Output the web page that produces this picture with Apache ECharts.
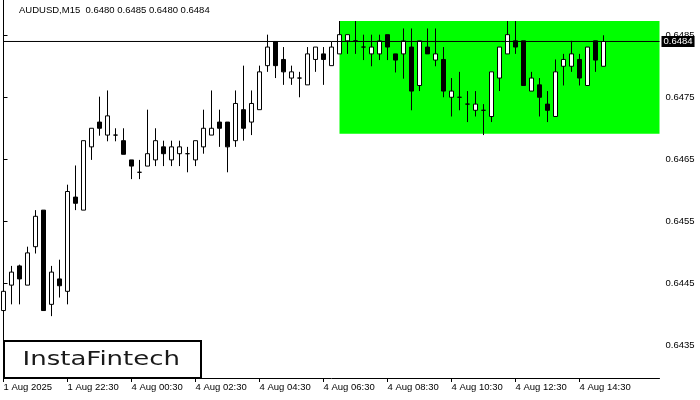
<!DOCTYPE html>
<html>
<head>
<meta charset="utf-8">
<script src="https://cdn.jsdelivr.net/npm/echarts@6/dist/echarts.min.js"></script>
<style>
html,body{margin:0;padding:0;background:#fff;}
#chart{width:700px;height:400px;}
</style>
</head>
<body>
<div id="chart"></div>
<script>
// ---- data ----
const titleText = 'AUDUSD,M15  0.6480 0.6485 0.6480 0.6484';
const tickLabels = ['1 Aug 2025','1 Aug 22:30','4 Aug 00:30','4 Aug 02:30','4 Aug 04:30','4 Aug 06:30','4 Aug 08:30','4 Aug 10:30','4 Aug 12:30','4 Aug 14:30'];
const tickBars = [0,8,16,24,32,40,48,56,64,72];
const priceTicks = [0.6435,0.6445,0.6455,0.6465,0.6475,0.6485];
const opens = [0.64406,0.64447,0.64478,0.64447,0.64509,0.64568,0.64416,0.64457,0.64437,0.64589,
  0.64568,0.64670,0.64710,0.64689,0.64689,0.64680,0.64649,0.64629,0.64639,0.64649,
  0.64670,0.64649,0.64659,0.64659,0.64649,0.64670,0.64689,0.64710,0.64710,0.64680,
  0.64730,0.64710,0.64730,0.64801,0.64840,0.64811,0.64781,0.64781,0.64770,0.64811,
  0.64820,0.64801,0.64820,0.64841,0.64841,0.64831,0.64820,0.64820,0.64851,0.64820,
  0.64820,0.64831,0.64769,0.64831,0.64810,0.64811,0.64750,0.64750,0.64739,0.64729,
  0.64729,0.64719,0.64781,0.64820,0.64841,0.64841,0.64760,0.64770,0.64739,0.64719,
  0.64800,0.64800,0.64811,0.64769,0.64841,0.64800];
const highs = [0.64469,0.64478,0.64480,0.64509,0.64568,0.64568,0.64478,0.64488,0.64609,0.64640,
  0.64680,0.64700,0.64751,0.64761,0.64700,0.64700,0.64649,0.64649,0.64730,0.64700,
  0.64680,0.64680,0.64680,0.64670,0.64680,0.64730,0.64761,0.64730,0.64710,0.64761,
  0.64801,0.64761,0.64801,0.64851,0.64840,0.64831,0.64801,0.64791,0.64831,0.64831,
  0.64831,0.64840,0.64873,0.64851,0.64873,0.64851,0.64851,0.64851,0.64851,0.64820,
  0.64861,0.64861,0.64841,0.64861,0.64861,0.64831,0.64781,0.64791,0.64760,0.64760,
  0.64739,0.64791,0.64831,0.64873,0.64873,0.64841,0.64791,0.64781,0.64760,0.64811,
  0.64820,0.64841,0.64820,0.64831,0.64841,0.64850];
const lows = [0.64406,0.64416,0.64416,0.64447,0.64498,0.64406,0.64397,0.64427,0.64416,0.64568,
  0.64568,0.64649,0.64688,0.64679,0.64679,0.64658,0.64618,0.64618,0.64639,0.64639,
  0.64639,0.64639,0.64639,0.64629,0.64639,0.64659,0.64689,0.64670,0.64629,0.64670,
  0.64680,0.64689,0.64730,0.64791,0.64781,0.64770,0.64770,0.64750,0.64770,0.64791,
  0.64770,0.64801,0.64820,0.64820,0.64820,0.64810,0.64800,0.64810,0.64810,0.64790,
  0.64780,0.64729,0.64760,0.64820,0.64800,0.64750,0.64719,0.64729,0.64710,0.64719,
  0.64689,0.64710,0.64760,0.64820,0.64820,0.64769,0.64760,0.64719,0.64710,0.64719,
  0.64769,0.64791,0.64769,0.64769,0.64791,0.64800];
const closes = [0.64437,0.64468,0.64457,0.64499,0.64558,0.64406,0.64468,0.64446,0.64598,0.64579,
  0.64680,0.64700,0.64700,0.64720,0.64689,0.64658,0.64639,0.64629,0.64659,0.64680,
  0.64659,0.64670,0.64670,0.64659,0.64680,0.64700,0.64700,0.64700,0.64670,0.64740,
  0.64700,0.64740,0.64791,0.64831,0.64801,0.64791,0.64791,0.64781,0.64820,0.64831,
  0.64811,0.64831,0.64851,0.64851,0.64841,0.64831,0.64831,0.64841,0.64831,0.64810,
  0.64841,0.64760,0.64841,0.64820,0.64820,0.64760,0.64760,0.64750,0.64739,0.64739,
  0.64729,0.64791,0.64831,0.64851,0.64831,0.64769,0.64781,0.64750,0.64729,0.64791,
  0.64811,0.64820,0.64781,0.64831,0.64810,0.64840];
const currentPrice = 0.6484;
const zoneTop = 0.64873;
const zoneBottom = 0.64691;
const zoneStartBar = 42;
const xMax = 82;
const yMin = 0.642972;
const yMax = 0.649069;

// ---- build ----
const candleData = opens.map((o, i) => [i, o, closes[i], lows[i], highs[i]]);
const font = 'Liberation Sans';

const chart = echarts.init(document.getElementById('chart'), null, {renderer: 'canvas'});
chart.setOption({
  animation: false,
  backgroundColor: '#ffffff',
  grid: {left: 3.5, right: 40.5, top: 0, bottom: 22, containLabel: false, show: false},
  xAxis: {
    type: 'value', min: 0, max: xMax,
    splitLine: {show: false},
    axisLine: {show: true, lineStyle: {color: '#000', width: 1}},
    axisTick: {show: true, length: 4, lineStyle: {color: '#000'}, customValues: tickBars},
    axisLabel: {
      customValues: tickBars, align: 'left', margin: 4, color: '#000',
      fontFamily: font, fontSize: 9.5,
      formatter: v => { const k = tickBars.indexOf(Math.round(v)); return k >= 0 ? tickLabels[k] : ''; }
    }
  },
  yAxis: [{
    type: 'value', position: 'right', min: yMin, max: yMax, scale: true,
    splitLine: {show: false},
    axisLine: {show: true, lineStyle: {color: '#000', width: 1}},
    axisTick: {show: true, length: 4, lineStyle: {color: '#000'}, customValues: priceTicks},
    axisLabel: {
      customValues: priceTicks, margin: 6, color: '#000', fontFamily: font, fontSize: 9.5,
      formatter: v => v.toFixed(4)
    }
  }, {
    type: 'value', position: 'left', min: yMin, max: yMax, scale: true,
    splitLine: {show: false},
    axisLine: {show: true, lineStyle: {color: '#000', width: 1}},
    axisTick: {show: false}, axisLabel: {show: false}
  }],
  series: [{
    type: 'candlestick',
    yAxisIndex: 0,
    data: candleData,
    encode: {x: 0, y: [1, 2, 3, 4]},
    barWidth: 4,
    itemStyle: {color: '#ffffff', color0: '#000000', borderColor: '#000000', borderColor0: '#000000', borderWidth: 1},
    emphasis: {disabled: true},
    markArea: {
      silent: true,
      itemStyle: {color: '#00ff00', opacity: 1},
      data: [[{xAxis: zoneStartBar, yAxis: zoneTop}, {xAxis: xMax, yAxis: zoneBottom}]]
    }
  }, {
    type: 'line',
    yAxisIndex: 0,
    z: 5,
    data: [[0, currentPrice], [xMax, currentPrice]],
    symbol: 'none',
    silent: true,
    clip: false,
    lineStyle: {color: '#000', width: 1, type: 'solid'},
    emphasis: {disabled: true},
    endLabel: {
      show: true, distance: 2,
      formatter: () => currentPrice.toFixed(4),
      backgroundColor: '#000', color: '#fff', padding: [1, 2, 0, 2],
      fontFamily: font, fontSize: 9.5
    }
  }],
  graphic: [
    {type: 'text', left: 19, top: 5, z: 100,
     style: {text: titleText, font: '9.5px "Liberation Sans"', fill: '#000'}},
    {type: 'rect', z: 100, shape: {x: 4, y: 341, width: 197, height: 37},
     style: {fill: '#ffffff', stroke: '#000', lineWidth: 2}},
    {type: 'text', z: 101, x: 22.5, y: 360, scaleX: 1.3,
     style: {text: 'InstaFintech', font: '20px "DejaVu Sans"', fill: '#1a1a1a', textVerticalAlign: 'middle'}}
  ]
});
</script>
</body>
</html>
